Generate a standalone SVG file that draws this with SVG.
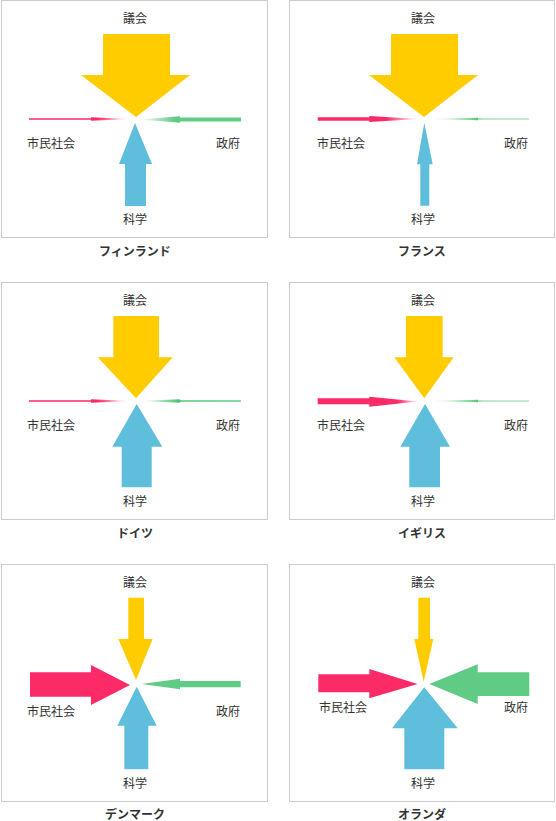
<svg xmlns="http://www.w3.org/2000/svg" width="556" height="821" viewBox="0 0 556 821">
<style>
.frame{fill:#fff;stroke:#cccccc;stroke-width:1}
.lbl{font-family:"Noto Sans CJK JP","Noto Sans CJK SC",sans-serif;font-size:12px;fill:#333;text-anchor:middle}
.ttl{font-family:"Noto Sans CJK JP","Noto Sans CJK SC",sans-serif;font-size:12px;font-weight:bold;fill:#333;text-anchor:middle}
.y{fill:#ffcc00}
.b{fill:#5fbedc}
.r{fill:#fd2a68}
.g{fill:#5fcb84}
</style>
<defs>
<linearGradient id="fadeR" x1="0" y1="0" x2="1" y2="0">
<stop offset="0" stop-color="#fd2a68"/>
<stop offset="0.68" stop-color="#fd2a68"/>
<stop offset="1" stop-color="#fd2a68" stop-opacity="0"/>
</linearGradient>
<linearGradient id="fadeR2" x1="0" y1="0" x2="1" y2="0">
<stop offset="0" stop-color="#fd2a68"/>
<stop offset="0.8" stop-color="#fd2a68"/>
<stop offset="1" stop-color="#fd2a68" stop-opacity="0.1"/>
</linearGradient>
<linearGradient id="fadeG" x1="0" y1="0" x2="1" y2="0">
<stop offset="0" stop-color="#5fcb84" stop-opacity="0"/>
<stop offset="0.35" stop-color="#5fcb84"/>
<stop offset="1" stop-color="#5fcb84"/>
</linearGradient>
<linearGradient id="fadeG2" x1="0" y1="0" x2="1" y2="0">
<stop offset="0" stop-color="#5fcb84" stop-opacity="0"/>
<stop offset="0.4" stop-color="#5fcb84" stop-opacity="0.75"/>
<stop offset="0.5" stop-color="#4fbf73"/>
<stop offset="0.55" stop-color="#7fd39b"/>
<stop offset="1" stop-color="#8ad8a4"/>
</linearGradient>
<linearGradient id="fadeG3" x1="0" y1="0" x2="1" y2="0">
<stop offset="0" stop-color="#5fcb84" stop-opacity="0"/>
<stop offset="0.25" stop-color="#5fcb84" stop-opacity="0.7"/>
<stop offset="0.38" stop-color="#4fbf73"/>
<stop offset="0.42" stop-color="#7fd39b"/>
<stop offset="1" stop-color="#8ad8a4"/>
</linearGradient>
</defs>

<!-- Finland -->
<g id="finland" transform="translate(1,0)">
<rect class="frame" x="0.5" y="0.5" width="266" height="237"/>
<g id="finland-nodes">
<text class="lbl" x="134" y="23">議会</text>
<text class="lbl" x="50" y="148">市民社会</text>
<text class="lbl" x="227" y="148">政府</text>
<text class="lbl" x="134" y="224">科学</text>
</g>
<g id="finland-connectors">
<polygon class="y" points="102,34 169,34 169,75 189,75 135,117 80,75 102,75"/>
<polygon class="b" points="124,206 145,206 145,164 151,164 134,123 118,164 124,164"/>
<polygon fill="url(#fadeR)" points="28,118.3 90,118.3 90,117.3 129,119 90,120.7 90,119.7 28,119.7"/>
<polygon fill="url(#fadeG)" points="240,117.6 179,117.6 179,116.2 139,119.5 179,122.8 179,121.4 240,121.4"/>
</g>
<text class="ttl" x="134" y="256">フィンランド</text>
</g>

<!-- France -->
<g id="france" transform="translate(289,0)">
<rect class="frame" x="0.5" y="0.5" width="265" height="237"/>
<g id="france-nodes">
<text class="lbl" x="134" y="23">議会</text>
<text class="lbl" x="52" y="148">市民社会</text>
<text class="lbl" x="227" y="148">政府</text>
<text class="lbl" x="134" y="224">科学</text>
</g>
<g id="france-connectors">
<polygon class="y" points="102,34 169,34 169,75 189,75 135,117 80,75 102,75"/>
<polygon class="b" points="131.3,205.7 140.3,205.7 140.3,164.3 143.7,164.3 135.3,122.7 128,164.3 131.3,164.3"/>
<polygon fill="url(#fadeR)" points="28.7,117.3 80.3,117.3 80.3,116 130,119 80.3,122 80.3,120.7 28.7,120.7"/>
<polygon fill="url(#fadeG2)" points="240,118.5 189,118.5 189,117.8 140,119 189,120.2 189,119.5 240,119.5"/>
</g>
<text class="ttl" x="133" y="256">フランス</text>
</g>

<!-- Germany -->
<g id="germany" transform="translate(1,282)">
<rect class="frame" x="0.5" y="0.5" width="266" height="237"/>
<g id="germany-nodes">
<text class="lbl" x="134" y="23">議会</text>
<text class="lbl" x="50" y="148">市民社会</text>
<text class="lbl" x="227" y="148">政府</text>
<text class="lbl" x="134" y="224">科学</text>
</g>
<g id="germany-connectors">
<polygon class="y" points="112.3,34 158,34 158,75.3 171.7,75.3 135,116.3 96.7,75.3 112.3,75.3"/>
<polygon class="b" points="120.7,205.3 150.7,205.3 150.7,164.7 161.3,164.7 135.7,122 111.3,164.7 120.7,164.7"/>
<polygon fill="url(#fadeR)" points="28,118.3 90,118.3 90,117.3 129,119 90,120.7 90,119.7 28,119.7"/>
<polygon fill="url(#fadeG3)" points="240,118 179,118 179,117.3 139,119 179,120.7 179,120 240,120"/>
</g>
<text class="ttl" x="134" y="256">ドイツ</text>
</g>

<!-- UK -->
<g id="uk" transform="translate(289,282)">
<rect class="frame" x="0.5" y="0.5" width="265" height="237"/>
<g id="uk-nodes">
<text class="lbl" x="134" y="23">議会</text>
<text class="lbl" x="52" y="148">市民社会</text>
<text class="lbl" x="227" y="148">政府</text>
<text class="lbl" x="134" y="224">科学</text>
</g>
<g id="uk-connectors">
<polygon class="y" points="117,34 153.7,34 153.7,75.3 164.7,75.3 135.3,116.3 105.3,75.3 117,75.3"/>
<polygon class="b" points="120.3,205.3 151,205.3 151,164.7 161,164.7 136,122 111.3,164.7 120.3,164.7"/>
<polygon fill="url(#fadeR2)" points="28.7,116.3 80.3,116.3 80.3,114.7 128.7,119.5 80.3,124.7 80.3,122.3 28.7,122.3"/>
<polygon fill="url(#fadeG2)" points="240,118.5 189,118.5 189,117.8 140,119 189,120.2 189,119.5 240,119.5"/>
</g>
<text class="ttl" x="133" y="256">イギリス</text>
</g>

<!-- Denmark -->
<g id="denmark" transform="translate(1,564)">
<rect class="frame" x="0.5" y="0.5" width="266" height="237"/>
<g id="denmark-nodes">
<text class="lbl" x="134" y="23">議会</text>
<text class="lbl" x="50" y="152">市民社会</text>
<text class="lbl" x="227" y="152">政府</text>
<text class="lbl" x="134" y="224">科学</text>
</g>
<g id="denmark-connectors">
<polygon class="y" points="127.3,33.7 143,33.7 143,75 151.7,75 135,116 117.3,75 127.3,75"/>
<polygon class="b" points="123.3,205.3 147.3,205.3 147.3,161.7 155.7,161.7 135.7,122.7 116.3,161.7 123.3,161.7"/>
<polygon class="r" points="29,108.3 90,108.3 90,101 129,121 90,141 90,132.7 29,132.7"/>
<polygon class="g" points="239.7,117 179,117 179,114.7 140.7,120 179,125.3 179,123.3 239.7,123.3"/>
</g>
<text class="ttl" x="134" y="255">デンマーク</text>
</g>

<!-- Netherlands -->
<g id="netherlands" transform="translate(289,564)">
<rect class="frame" x="0.5" y="0.5" width="265" height="237"/>
<g id="netherlands-nodes">
<text class="lbl" x="134" y="23">議会</text>
<text class="lbl" x="54" y="148">市民社会</text>
<text class="lbl" x="227" y="148">政府</text>
<text class="lbl" x="134" y="224">科学</text>
</g>
<g id="netherlands-connectors">
<polygon class="y" points="129.3,33.7 141,33.7 141,75 144.3,75 134.7,117.7 125.3,75 129.3,75"/>
<polygon class="b" points="115.3,205.3 155.3,205.3 155.3,164.3 168.7,164.3 135.3,123.3 103,164.3 115.3,164.3"/>
<polygon class="r" points="29.3,110.3 80.3,110.3 80.3,105 128.7,120 80.3,134.3 80.3,128.3 29.3,128.3"/>
<polygon class="g" points="240.3,108.3 188.7,108.3 188.7,100.3 140.3,120 188.7,140 188.7,132 240.3,132"/>
</g>
<text class="ttl" x="133" y="255">オランダ</text>
</g>
</svg>
